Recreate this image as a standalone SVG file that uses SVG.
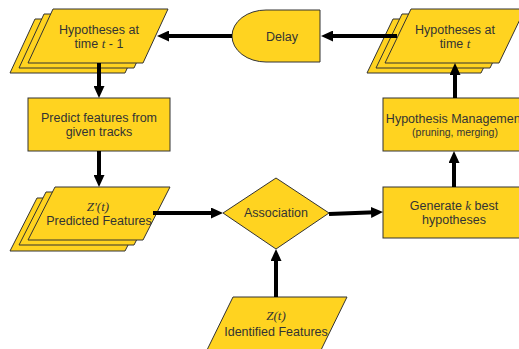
<svg xmlns="http://www.w3.org/2000/svg" width="519" height="349" viewBox="0 0 519 349">
<defs>
<style>
.s{fill:#FFD320;stroke:#333;stroke-width:1}
.t{font-family:"Liberation Sans",Arial,sans-serif;font-size:12.5px;fill:#333;text-anchor:middle}
.sm{font-size:10.5px}
.i{font-family:"Liberation Serif","Times New Roman",serif;font-style:italic;font-size:13px}
.c{stroke:#000;stroke-width:4;fill:none;marker-end:url(#ah)}
</style>
<marker id="ah" markerUnits="userSpaceOnUse" markerWidth="12" markerHeight="11" refX="4" refY="5.5" orient="auto">
<path d="M0,0 L12,5.5 L0,11 Z" fill="#000"/>
</marker>
<path id="pl1" d="M53,9 L168,9 L143,63 L28,63 Z"/>
<path id="pr1" d="M411,9 L525,9 L499,63 L385,63 Z"/>
<path id="pz1" d="M55,187 L170,187 L143,240 L28,240 Z"/>
</defs>
<rect width="519" height="349" fill="#fff"/>

<g id="hyp-prev">
<use href="#pl1" class="s" transform="translate(-18,10)"/>
<use href="#pl1" class="s" transform="translate(-9,5)"/>
<use href="#pl1" class="s"/>
<text class="t" x="99" y="34">Hypotheses at</text>
<text class="t" x="99" y="48">time <tspan class="i">t</tspan> - 1</text>
</g>

<g id="delay">
<path class="s" d="M320,10 H266 A34,26 0 0 0 266,62 H320 Z"/>
<text class="t" x="282" y="41">Delay</text>
</g>

<g id="hyp-now">
<use href="#pr1" class="s" transform="translate(-18,10)"/>
<use href="#pr1" class="s" transform="translate(-9,5)"/>
<use href="#pr1" class="s"/>
<text class="t" x="455" y="34">Hypotheses at</text>
<text class="t" x="455" y="48">time <tspan class="i">t</tspan></text>
</g>

<g id="predict">
<rect class="s" x="28" y="98" width="142" height="53"/>
<text class="t" x="99" y="122">Predict features from</text>
<text class="t" x="99" y="136">given tracks</text>
</g>

<g id="hyp-mgmt">
<rect class="s" x="383" y="98" width="145" height="53"/>
<text class="t" x="455" y="123">Hypothesis Management</text>
<text class="t sm" x="455" y="136">(pruning, merging)</text>
</g>

<g id="predicted">
<use href="#pz1" class="s" transform="translate(-18,11)"/>
<use href="#pz1" class="s" transform="translate(-9,5)"/>
<use href="#pz1" class="s"/>
<text class="t i" x="98" y="211">Z'(t)</text>
<text class="t" x="99" y="225">Predicted Features</text>
</g>

<g id="association">
<path class="s" d="M223,213 L276,178 L329,213 L276,249 Z"/>
<text class="t" x="276" y="217">Association</text>
</g>

<g id="generate">
<rect class="s" x="383" y="187" width="140" height="51"/>
<text class="t" x="454" y="210">Generate <tspan class="i">k</tspan> best</text>
<text class="t" x="454" y="224">hypotheses</text>
</g>

<g id="identified">
<path class="s" d="M233,297 L347,297 L321,350 L207,350 Z"/>
<text class="t i" x="276" y="320">Z(t)</text>
<text class="t" x="276" y="336">Identified Features</text>
</g>

<g id="connectors">
<line class="c" x1="397" y1="36" x2="329" y2="36"/>
<line class="c" x1="232" y1="36" x2="165" y2="36"/>
<line class="c" x1="99" y1="63" x2="99" y2="90"/>
<line class="c" x1="99" y1="151" x2="99" y2="179"/>
<line class="c" x1="153" y1="213" x2="215" y2="213"/>
<line class="c" x1="276" y1="297" x2="276" y2="257"/>
<line class="c" x1="329" y1="214" x2="375" y2="212.3"/>
<line class="c" x1="454" y1="187" x2="454" y2="159"/>
<line class="c" x1="455" y1="98" x2="455" y2="71"/>
</g>
</svg>
